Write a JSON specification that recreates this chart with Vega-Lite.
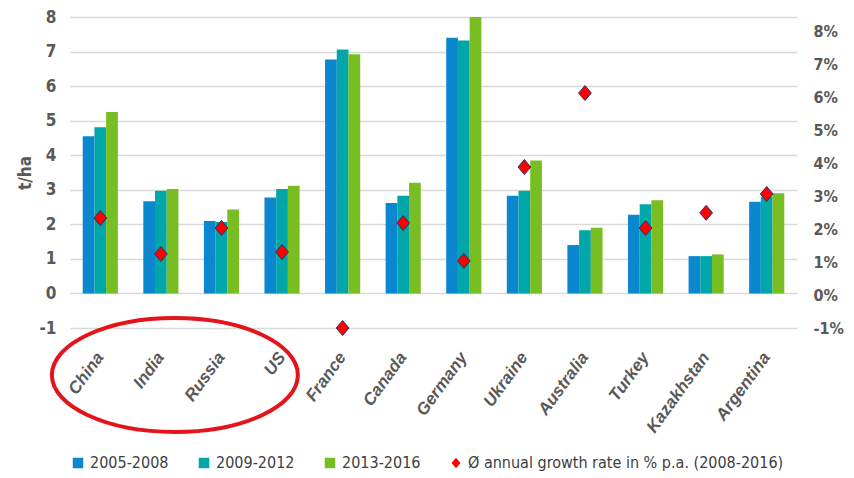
{
  "$schema": "https://vega.github.io/schema/vega-lite/v6.json",
  "width": 727,
  "height": 311,
  "autosize": {"type": "none"},
  "padding": {"left": 70, "top": 17, "right": 57, "bottom": 150},
  "background": "white",
  "config": {"view": {"stroke": null}, "font": "DejaVu Sans Condensed, DejaVu Sans, sans-serif"},
  "datasets": {
    "yield": [
      {"country": "China", "series": "2005-2008", "value": 4.55},
      {"country": "China", "series": "2009-2012", "value": 4.81},
      {"country": "China", "series": "2013-2016", "value": 5.25},
      {"country": "India", "series": "2005-2008", "value": 2.67},
      {"country": "India", "series": "2009-2012", "value": 2.97},
      {"country": "India", "series": "2013-2016", "value": 3.02},
      {"country": "Russia", "series": "2005-2008", "value": 2.10},
      {"country": "Russia", "series": "2009-2012", "value": 2.07},
      {"country": "Russia", "series": "2013-2016", "value": 2.43},
      {"country": "US", "series": "2005-2008", "value": 2.78},
      {"country": "US", "series": "2009-2012", "value": 3.02},
      {"country": "US", "series": "2013-2016", "value": 3.12},
      {"country": "France", "series": "2005-2008", "value": 6.77},
      {"country": "France", "series": "2009-2012", "value": 7.06},
      {"country": "France", "series": "2013-2016", "value": 6.92},
      {"country": "Canada", "series": "2005-2008", "value": 2.62},
      {"country": "Canada", "series": "2009-2012", "value": 2.83},
      {"country": "Canada", "series": "2013-2016", "value": 3.20},
      {"country": "Germany", "series": "2005-2008", "value": 7.40},
      {"country": "Germany", "series": "2009-2012", "value": 7.32},
      {"country": "Germany", "series": "2013-2016", "value": 8.0},
      {"country": "Ukraine", "series": "2005-2008", "value": 2.83},
      {"country": "Ukraine", "series": "2009-2012", "value": 2.97},
      {"country": "Ukraine", "series": "2013-2016", "value": 3.85},
      {"country": "Australia", "series": "2005-2008", "value": 1.40},
      {"country": "Australia", "series": "2009-2012", "value": 1.83},
      {"country": "Australia", "series": "2013-2016", "value": 1.90},
      {"country": "Turkey", "series": "2005-2008", "value": 2.28},
      {"country": "Turkey", "series": "2009-2012", "value": 2.58},
      {"country": "Turkey", "series": "2013-2016", "value": 2.70},
      {"country": "Kazakhstan", "series": "2005-2008", "value": 1.08},
      {"country": "Kazakhstan", "series": "2009-2012", "value": 1.08},
      {"country": "Kazakhstan", "series": "2013-2016", "value": 1.13},
      {"country": "Argentina", "series": "2005-2008", "value": 2.65},
      {"country": "Argentina", "series": "2009-2012", "value": 2.80},
      {"country": "Argentina", "series": "2013-2016", "value": 2.90}
    ],
    "growth": [
      {"country": "China", "series": "Ø annual growth rate in % p.a. (2008-2016)", "rate": 2.34},
      {"country": "India", "series": "Ø annual growth rate in % p.a. (2008-2016)", "rate": 1.25},
      {"country": "Russia", "series": "Ø annual growth rate in % p.a. (2008-2016)", "rate": 2.04},
      {"country": "US", "series": "Ø annual growth rate in % p.a. (2008-2016)", "rate": 1.31},
      {"country": "France", "series": "Ø annual growth rate in % p.a. (2008-2016)", "rate": -1.0},
      {"country": "Canada", "series": "Ø annual growth rate in % p.a. (2008-2016)", "rate": 2.19},
      {"country": "Germany", "series": "Ø annual growth rate in % p.a. (2008-2016)", "rate": 1.04},
      {"country": "Ukraine", "series": "Ø annual growth rate in % p.a. (2008-2016)", "rate": 3.89},
      {"country": "Australia", "series": "Ø annual growth rate in % p.a. (2008-2016)", "rate": 6.14},
      {"country": "Turkey", "series": "Ø annual growth rate in % p.a. (2008-2016)", "rate": 2.04},
      {"country": "Kazakhstan", "series": "Ø annual growth rate in % p.a. (2008-2016)", "rate": 2.50},
      {"country": "Argentina", "series": "Ø annual growth rate in % p.a. (2008-2016)", "rate": 3.07}
    ],
    "ring": [
      {"country": "India", "pos": -2.36}
    ]
  },
  "layer": [
    {
      "data": {"name": "yield"},
      "mark": {"type": "bar"},
      "encoding": {
        "x": {
          "field": "country", "type": "nominal",
          "scale": {"domain": ["China", "India", "Russia", "US", "France", "Canada", "Germany", "Ukraine", "Australia", "Turkey", "Kazakhstan", "Argentina"], "paddingInner": 0.42, "paddingOuter": 0.21},
          "axis": {"title": null, "labelAngle": -54, "labelAlign": "right", "labelBaseline": "middle", "labelFont": "Liberation Sans", "labelFontSize": 17, "labelFontStyle": "italic", "labelFontWeight": "bold", "labelColor": "#595959", "labelPadding": 26, "domain": false, "ticks": false}
        },
        "xOffset": {"field": "series", "type": "nominal", "sort": null, "scale": {"paddingInner": 0, "paddingOuter": 0}},
        "y": {
          "field": "value", "type": "quantitative",
          "scale": {"domain": [-1, 8], "nice": false},
          "axis": {"title": "t/ha", "values": [-1, 0, 1, 2, 3, 4, 5, 6, 7, 8], "labelExpr": "datum.value + ''", "grid": true, "gridColor": "#D9D9D9", "gridWidth": 1.5, "domain": false, "ticks": false, "labelFontSize": 17, "labelFontWeight": "bold", "labelColor": "#595959", "labelPadding": 14, "titleFontSize": 17, "titleFontWeight": "bold", "titleColor": "#595959", "titlePadding": 5}
        },
        "color": {
          "field": "series", "type": "nominal",
          "scale": {"domain": ["2005-2008", "2009-2012", "2013-2016", "Ø annual growth rate in % p.a. (2008-2016)"], "range": ["#0A87CF", "#00A6A8", "#78BE23", "#FF0000"]},
          "legend": {"title": null, "orient": "none", "legendX": 0, "legendY": 438, "direction": "horizontal", "labelFontSize": 16, "labelColor": "#404040", "symbolSize": 110, "columnPadding": 27, "symbolStrokeWidth": 0, "labelLimit": 400}
        }
      }
    },
    {
      "data": {"name": "ring"},
      "mark": {"type": "point", "shape": "M1.096,0 C1.096,0.2518 0.6555,0.456 0.112,0.456 C-0.4315,0.456 -0.872,0.2518 -0.872,0 C-0.872,-0.2518 -0.4315,-0.456 0.112,-0.456 C0.6555,-0.456 1.096,-0.2518 1.096,0 Z", "size": 62500, "filled": false, "stroke": "#E3151B", "strokeWidth": 4, "opacity": 1},
      "encoding": {
        "x": {"field": "country", "type": "nominal"},
        "y": {"field": "pos", "type": "quantitative", "scale": {"domain": [-1, 8], "nice": false}, "axis": null}
      }
    },
    {
      "data": {"name": "growth"},
      "mark": {"type": "point", "filled": true, "size": 225, "stroke": "#1F3864", "strokeWidth": 1, "opacity": 1},
      "encoding": {
        "x": {"field": "country", "type": "nominal"},
        "y": {
          "field": "rate", "type": "quantitative",
          "scale": {"domain": [-1, 8.45], "nice": false, "zero": false},
          "axis": {"orient": "right", "title": null, "values": [-1, 0, 1, 2, 3, 4, 5, 6, 7, 8], "labelExpr": "datum.value + '%'", "grid": false, "domain": false, "ticks": false, "labelFontSize": 16, "labelFontWeight": "bold", "labelColor": "#595959", "labelPadding": 16}
        },
        "color": {"field": "series", "type": "nominal"},
        "shape": {
          "field": "series", "type": "nominal",
          "scale": {"domain": ["2005-2008", "2009-2012", "2013-2016", "Ø annual growth rate in % p.a. (2008-2016)"], "range": ["square", "square", "square", "M0,-1L0.85,0L0,1L-0.85,0Z"]}
        }
      }
    }
  ],
  "resolve": {"scale": {"y": "independent"}, "axis": {"y": "independent"}}
}
